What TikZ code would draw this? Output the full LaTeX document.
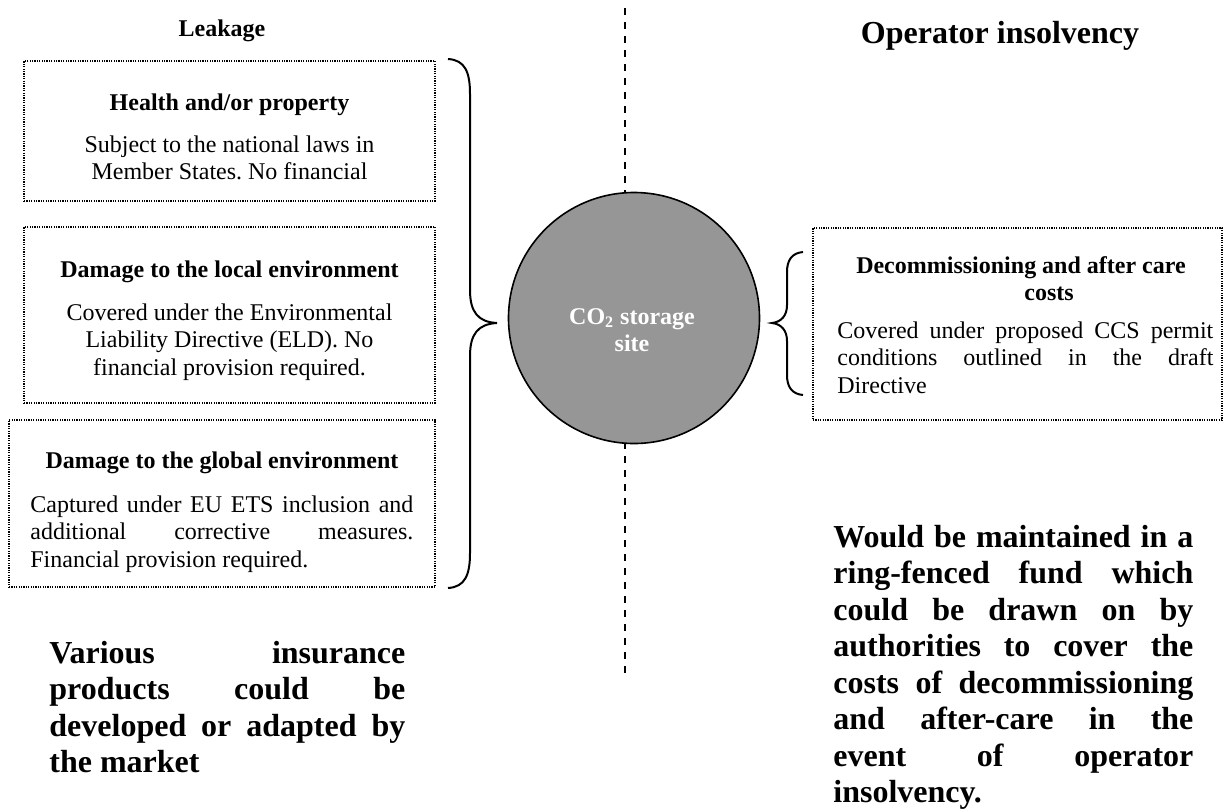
\documentclass[tikz,border=0pt]{standalone}
\usepackage{fontspec}
\setmainfont{Liberation Serif}
\frenchspacing
\definecolor{sitegray}{RGB}{150,150,150}
\newcommand\jline[2]{\makebox[#1][s]{#2}}
\tikzset{
  dotbox/.style={draw=black, line width=0.6pt, dash pattern=on 0.6pt off 0.6pt, inner sep=0pt},
  txt/.style={inner sep=0pt, font=\fontsize{12}{13.8}\selectfont},
  hd/.style={inner sep=0pt, font=\bfseries\fontsize{12}{13.8}\selectfont},
  bigtitle/.style={inner sep=0pt, font=\bfseries\fontsize{16}{18.4}\selectfont},
  bigtxt/.style={inner sep=0pt, font=\bfseries\fontsize{16}{18.25}\selectfont},
  bracepath/.style={draw=black, line width=1pt},
  divider/.style={draw=black, line width=0.9pt, dash pattern=on 3.5pt off 3.5pt}
}
\begin{document}
\begin{tikzpicture}[x=0.5pt,y=-0.5pt]
\useasboundingbox (0,0) rectangle (1226,810);

% dashed divider behind the circle
\coordinate (dtop) at (625,8);
\coordinate (dbot) at (625,677);
\draw[divider] (dtop) -- (dbot);

% storage site
\node[circle, draw=black, line width=0.8pt, fill=sitegray, minimum size=125.5pt, inner sep=0pt] (site) at (634,318) {};
\node[hd, text=white, anchor=base] (sitelbl) at (632,324)
  {\parbox[t]{100pt}{\centering CO\textsubscript{2} storage\\site}};

% titles
\node[hd, anchor=base] (leak) at (222,36) {Leakage};
\node[bigtitle, anchor=base] (opins) at (1000,43) {Operator insolvency};

% left boxes
\node[dotbox, minimum width=205.5pt, minimum height=70pt] (b1) at (229.5,131) {};
\node[hd, anchor=base] (h1) at (229.5,110) {Health and/or property};
\node[txt, anchor=base] (t1) at (229.5,152)
  {\parbox[t]{200pt}{\centering Subject to the national laws in\\Member States. No financial}};

\node[dotbox, minimum width=205.5pt, minimum height=88pt] (b2) at (229.5,315) {};
\node[hd, anchor=base] (h2) at (229.5,277) {Damage to the local environment};
\node[txt, anchor=base] (t2) at (229.5,320)
  {\parbox[t]{200pt}{\centering Covered under the Environmental\\Liability Directive (ELD). No\\financial provision required.}};

\node[dotbox, minimum width=213pt, minimum height=83.5pt] (b3) at (222,503.5) {};
\node[hd, anchor=base] (h3) at (222,468) {Damage to the global environment};
\node[txt, anchor=base west] (t3) at (30,512)
  {\parbox[t]{191.5pt}{\jline{191.5pt}{Captured under EU ETS inclusion and}\\\jline{191.5pt}{additional corrective measures.}\\Financial provision required.}};

% right box
\node[dotbox, minimum width=204.5pt, minimum height=96pt] (b4) at (1017.5,324) {};
\node[hd, anchor=base] (h4) at (1021,273)
  {\parbox[t]{190pt}{\centering Decommissioning and after care\\\hspace*{28pt}costs}};
\node[txt, anchor=base west] (t4) at (837,338)
  {\parbox[t]{188pt}{\jline{188pt}{Covered under proposed CCS permit}\\\jline{188pt}{conditions outlined in the draft}\\Directive}};

% braces
\coordinate (lbT) at (448,59);
\coordinate (lbTip) at (497,323);
\coordinate (lbB) at (448,588);
\draw[bracepath] (lbT) .. controls (465,60) and (470,72) .. (470,94) -- (470,290)
  .. controls (470,312) and (478,322) .. (lbTip)
  .. controls (478,324) and (470,334) .. (470,356) -- (470,553)
  .. controls (470,575) and (465,587) .. (lbB);

\coordinate (rbT) at (803,252);
\coordinate (rbTip) at (772,323);
\coordinate (rbB) at (803,395);
\draw[bracepath] (rbT) .. controls (792,253) and (787,260) .. (787,272) -- (787,305)
  .. controls (787,316) and (781,322) .. (rbTip)
  .. controls (781,324) and (787,330) .. (787,341) -- (787,375)
  .. controls (787,387) and (792,394) .. (rbB);

% bottom texts
\node[bigtxt, anchor=base west] (ins) at (49,663)
  {\parbox[t]{178pt}{\jline{178pt}{Various insurance}\\\jline{178pt}{products could be}\\\jline{178pt}{developed or adapted by}\\the market}};
\node[bigtxt, anchor=base west] (fund) at (833,547)
  {\parbox[t]{180pt}{\jline{180pt}{Would be maintained in a}\\\jline{180pt}{ring-fenced fund which}\\\jline{180pt}{could be drawn on by}\\\jline{180pt}{authorities to cover the}\\\jline{180pt}{costs of decommissioning}\\\jline{180pt}{and after-care in the}\\\jline{180pt}{event of operator}\\insolvency.}};
\end{tikzpicture}
\end{document}
